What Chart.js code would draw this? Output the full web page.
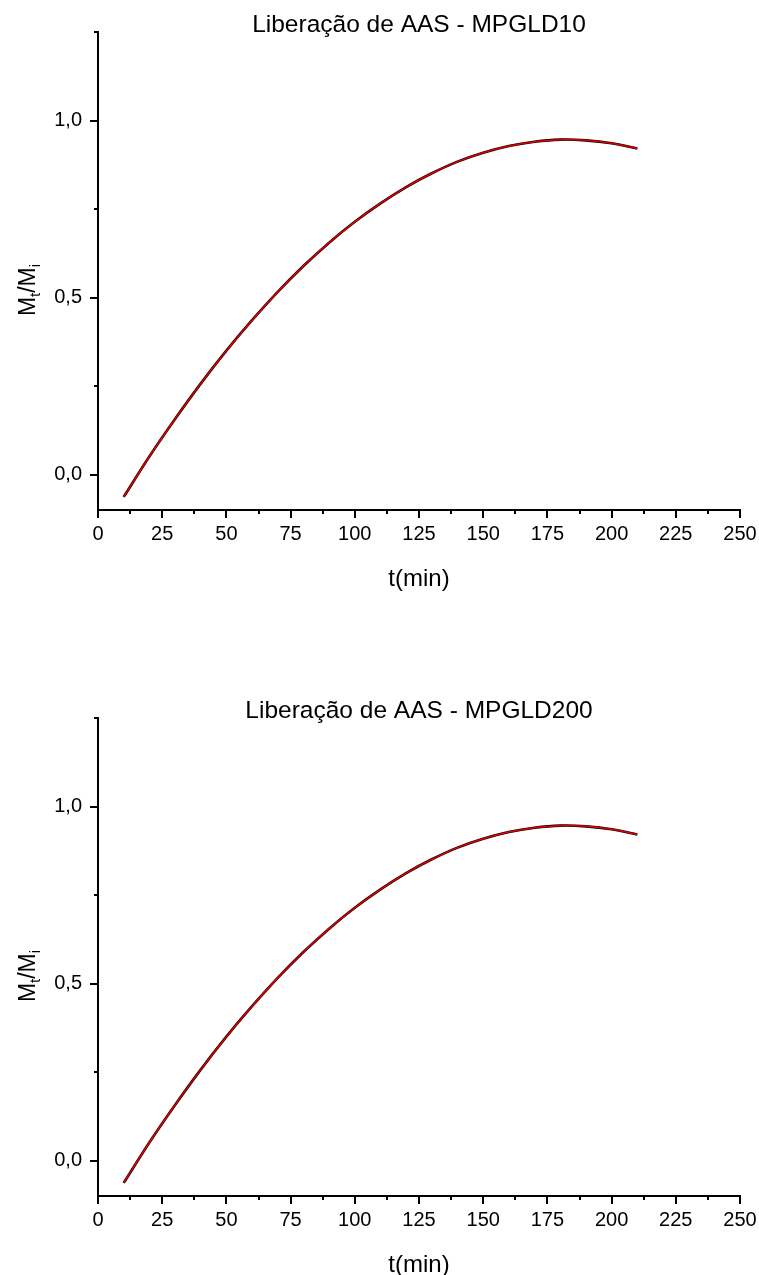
<!DOCTYPE html>
<html lang="pt-BR">
<head>
<meta charset="utf-8">
<title>Liberação de AAS</title>
<script src="https://cdn.jsdelivr.net/npm/chart.js@4.4.0/dist/chart.umd.min.js"></script>
<style>
  html, body { margin: 0; padding: 0; background: #fff; overflow: hidden; }
  #pagina { position: relative; width: 759px; height: 1275px; }
  canvas { position: absolute; left: 0; }
  #chart1 { top: 0; }
  #chart2 { top: 686px; }
</style>
</head>
<body>
<div id="pagina">
  <canvas id="chart1" width="759" height="600"></canvas>
  <canvas id="chart2" width="759" height="600"></canvas>
</div>
<script>
// tempo (min) e fração liberada Mt/Mi
const tempos = [10, 20, 30, 40, 50, 60, 70, 80, 90, 100, 110, 120, 130, 140, 150, 160, 170, 180, 190, 200, 210];

const mpgld10 = [-0.063, 0.051, 0.157, 0.257, 0.350, 0.436, 0.516, 0.589, 0.655, 0.714, 0.766, 0.812, 0.851, 0.884, 0.909, 0.928, 0.940, 0.946, 0.944, 0.936, 0.921];
const mpgld10Ajuste = [-0.063, 0.051, 0.157, 0.257, 0.350, 0.436, 0.516, 0.589, 0.655, 0.714, 0.766, 0.812, 0.851, 0.884, 0.909, 0.928, 0.940, 0.946, 0.944, 0.936, 0.921];

const mpgld200 = [-0.063, 0.051, 0.157, 0.257, 0.350, 0.436, 0.516, 0.589, 0.655, 0.714, 0.766, 0.812, 0.851, 0.884, 0.909, 0.928, 0.940, 0.946, 0.944, 0.936, 0.921];
const mpgld200Ajuste = [-0.063, 0.051, 0.157, 0.257, 0.350, 0.436, 0.516, 0.589, 0.655, 0.714, 0.766, 0.812, 0.851, 0.884, 0.909, 0.928, 0.940, 0.946, 0.944, 0.936, 0.921];

const ticksX = [0, 25, 50, 75, 100, 125, 150, 175, 200, 225, 250];
const ticksXMenores = [12.5, 37.5, 62.5, 87.5, 112.5, 137.5, 162.5, 187.5, 212.5, 237.5];
const ticksY = [0, 0.5, 1.0];
const ticksYMenores = [0.25, 0.75, 1.25];

const fonte = "'Liberation Sans', Arial, sans-serif";

// tracinhos dos eixos, título e rótulos dos eixos (com subscritos)
const eixosOrigin = {
    id: "eixosOrigin",
    afterDraw(chart, args, opts) {
        const ctx = chart.ctx;
        const area = chart.chartArea;
        const sx = chart.scales.x;
        const sy = chart.scales.y;

        ctx.save();
        ctx.strokeStyle = "#000";
        ctx.lineWidth = 2;
        ctx.beginPath();
        ticksX.forEach(function(v) {
            const px = Math.round(sx.getPixelForValue(v));
            ctx.moveTo(px, area.bottom);
            ctx.lineTo(px, area.bottom + 8);
        });
        ticksXMenores.forEach(function(v) {
            const px = Math.round(sx.getPixelForValue(v));
            ctx.moveTo(px, area.bottom);
            ctx.lineTo(px, area.bottom + 4);
        });
        ticksY.forEach(function(v) {
            const py = Math.round(sy.getPixelForValue(v));
            ctx.moveTo(area.left, py);
            ctx.lineTo(area.left - 8, py);
        });
        ticksYMenores.forEach(function(v) {
            const py = Math.round(sy.getPixelForValue(v));
            ctx.moveTo(area.left, py);
            ctx.lineTo(area.left - 4, py);
        });
        ctx.stroke();

        ctx.fillStyle = "#000";
        ctx.textAlign = "center";
        ctx.textBaseline = "alphabetic";
        const cx = (area.left + area.right) / 2;

        ctx.font = "24.5px " + fonte;
        ctx.fillText(opts.titulo, cx, 32);

        ctx.font = "24px " + fonte;
        ctx.fillText("t(min)", cx, 586);

        // Mt/Mi girado
        const partes = [
            { t: "M", f: 23, d: 0 },
            { t: "t", f: 15, d: 5 },
            { t: "/", f: 23, d: 0 },
            { t: "M", f: 23, d: 0 },
            { t: "i", f: 15, d: 5 }
        ];
        let largura = 0;
        partes.forEach(function(p) {
            ctx.font = p.f + "px " + fonte;
            p.w = ctx.measureText(p.t).width;
            largura += p.w;
        });
        ctx.translate(35, 290);
        ctx.rotate(-Math.PI / 2);
        ctx.textAlign = "left";
        let u = -largura / 2;
        partes.forEach(function(p) {
            ctx.font = p.f + "px " + fonte;
            ctx.fillText(p.t, u, p.d);
            u += p.w;
        });
        ctx.restore();
    }
};

function grafico(seletor, titulo, dados, ajuste) {
    return new Chart(
        document.querySelector(seletor),
        {
            type: "line",
            data: {
                labels: tempos,
                datasets: [
                    {
                        label: "ajuste",
                        data: ajuste,
                        borderColor: "#e00000",
                        borderWidth: 1.5,
                        pointRadius: 0,
                        tension: 0.3,
                        fill: false
                    },
                    {
                        label: "dados",
                        data: dados,
                        borderColor: "#000",
                        borderWidth: 2.6,
                        pointRadius: 0,
                        tension: 0.3,
                        fill: false
                    }
                ]
            },
            options: {
                responsive: false,
                animation: false,
                devicePixelRatio: 1,
                layout: { padding: { top: 32, left: 0, right: 19, bottom: 0 } },
                plugins: {
                    legend: { display: false },
                    tooltip: { enabled: false },
                    eixosOrigin: { titulo: titulo }
                },
                scales: {
                    x: {
                        type: "linear",
                        position: "bottom",
                        min: 0,
                        max: 250,
                        grid: { display: false, drawTicks: false },
                        border: { display: true, color: "#000", width: 2 },
                        ticks: {
                            color: "#000",
                            font: { family: fonte, size: 20 },
                            padding: 12,
                            maxRotation: 0,
                            autoSkip: false
                        },
                        afterBuildTicks: function(scale) {
                            scale.ticks = ticksX.map(v => ({ value: v }));
                        },
                        afterFit: function(scale) {
                            scale.height = 90;
                            scale.paddingLeft = 0;
                            scale.paddingRight = 0;
                        }
                    },
                    y: {
                        type: "linear",
                        position: "left",
                        min: -0.1,
                        max: 1.25,
                        grid: { display: false, drawTicks: false },
                        border: { display: true, color: "#000", width: 2 },
                        ticks: {
                            color: "#000",
                            font: { family: fonte, size: 20 },
                            padding: 16,
                            autoSkip: false,
                            callback: v => v.toFixed(1).replace(".", ",")
                        },
                        afterBuildTicks: function(scale) {
                            scale.ticks = ticksY.map(v => ({ value: v }));
                        },
                        afterFit: function(scale) {
                            scale.width = 98;
                            scale.paddingTop = 0;
                            scale.paddingBottom = 0;
                        }
                    }
                }
            },
            plugins: [eixosOrigin]
        }
    );
}

document.addEventListener("DOMContentLoaded", function() {
    // pares x/y para a escala linear
    const pares = (ys) => tempos.map((t, i) => ({ x: t, y: ys[i] }));
    grafico("canvas#chart1", "Liberação de AAS - MPGLD10", pares(mpgld10), pares(mpgld10Ajuste));
    grafico("canvas#chart2", "Liberação de AAS - MPGLD200", pares(mpgld200), pares(mpgld200Ajuste));
});
</script>
</body>
</html>
